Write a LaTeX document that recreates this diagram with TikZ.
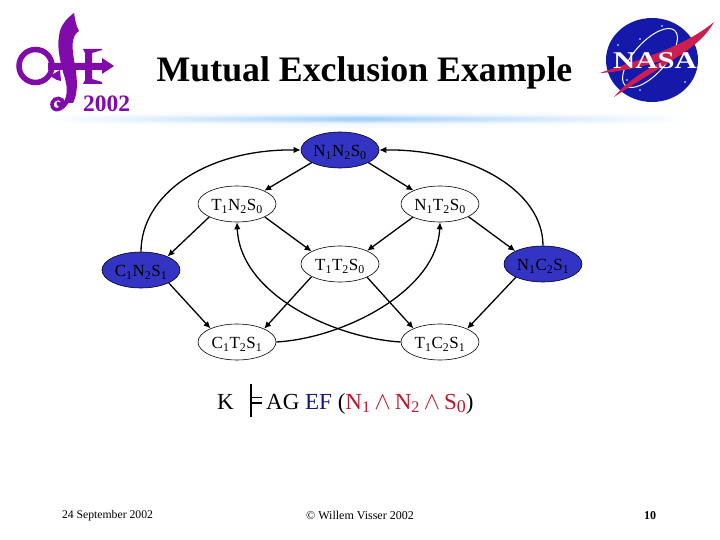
\documentclass[tikz,border=0pt]{standalone}
\usepackage{fontspec}
\setmainfont{Liberation Serif}
\usetikzlibrary{arrows.meta,shapes.geometric}
\definecolor{nodeblue}{RGB}{51,51,196}
\definecolor{lpurple}{RGB}{128,10,170}
\definecolor{nasablue}{RGB}{20,25,170}
\definecolor{nasared}{RGB}{205,30,80}
\definecolor{bandblue}{RGB}{165,208,250}
\definecolor{efblue}{RGB}{20,20,130}
\definecolor{exred}{RGB}{185,25,45}
\newcommand{\lab}[3]{#1\textsubscript{1}#2\textsubscript{2}S\textsubscript{#3}}
\tikzset{
  x=1pt,y=-1pt,
  st/.style={ellipse,draw=black,line width=0.6pt,minimum width=78pt,minimum height=36pt,inner sep=0pt,font=\fontsize{17}{20}\selectfont,fill=white,text height=15.5pt,text depth=2pt},
  init/.style={st,fill=nodeblue},
  edge/.style={-{Latex[length=7pt,width=6.5pt]},line width=1.3pt,black},
  logo/.style={lpurple,line cap=round},
}
\begin{document}
\begin{tikzpicture}
\useasboundingbox (0,0) rectangle (720,540);
\fill[white] (0,0) rectangle (720,540);
% band
\foreach \yy/\k in {113/8,114/14,115/22,116/38,117/60,118/85,119/100,120/100,121/92,122/70,123/45,124/25,125/14,126/8}{
  \shade[left color=white,right color=bandblue!\k!white] (40,\yy) rectangle (360,\yy+1.05);
  \shade[left color=bandblue!\k!white,right color=white] (360,\yy) rectangle (690,\yy+1.05);
}
% title
\node[font=\bfseries\fontsize{35.8}{40}\selectfont,inner sep=0pt] (title) at (364.5,73) {Mutual Exclusion Example};
% left logo
\draw[logo,line width=5.5pt] (35.5,66) ellipse (16.5 and 16.5);
\fill[lpurple] (74,13) .. controls (66,19) and (60,26) .. (59,36) .. controls (57,48) and (60,60) .. (63,72) .. controls (67,84) and (69,94) .. (63,103) -- (73,103) .. controls (79,92) and (77,74) .. (74,60) .. controls (72,48) and (71,36) .. (79,31) .. controls (76,26) and (75,19) .. (74,13) -- cycle;
\draw[logo,line width=3.6pt] (69,98) .. controls (65,108) and (56,113) .. (52.5,107) .. controls (50,100) and (58,96) .. (62,100) .. controls (64,104) and (59,107) .. (58,103);
\fill[lpurple] (50,76) -- (60,70) -- (61,81) -- (57,80) -- cycle;
\fill[lpurple] (48,63) -- (102,63) -- (102,58) -- (114,66) -- (102,74) -- (102,70) -- (48,70) -- cycle;
\fill[lpurple] (83,49) -- (102,49) -- (102,50) -- (92,53) -- (92,79) -- (102,82) -- (102,84) -- (83,84) -- (85,80) -- (85,53) -- cycle;
\node[font=\bfseries\fontsize{23.5}{26}\selectfont,text=lpurple,inner sep=0pt] (yr) at (106.5,104) {2002};
% NASA logo
\fill[nasablue] (652,60) ellipse (46 and 42);
\draw[white,line width=1pt,rotate around={-42:(650,58)}] (650,58) ellipse (16 and 37);
\fill[nasared] (600,73) .. controls (630,62) and (680,50) .. (714,22) .. controls (700,48) and (670,60) .. (614,97) .. controls (630,78) and (650,68) .. (664,60) .. controls (645,66) and (620,72) .. (600,73) -- cycle;
\node[font=\bfseries\fontsize{24}{26}\selectfont,text=white,inner sep=0pt] (nasa) at (655,61) {\scalebox{1.28}[1]{NASA}};
\foreach \p/\q in {640/39,662/26,627/80,640/90,685/82,618/45}{\fill[white] (\p,\q) circle (0.9);}
% states
\node[init] (n) at (340,150) {\lab{N}{N}{0}};
\node[st] (tn) at (237,204) {\lab{T}{N}{0}};
\node[st] (nt) at (440,204) {\lab{N}{T}{0}};
\node[st] (tt) at (340,264) {\lab{T}{T}{0}};
\node[init] (cn) at (141,270) {C\textsubscript{1}N\textsubscript{2}S\textsubscript{1}};
\node[init] (nc) at (543,264) {N\textsubscript{1}C\textsubscript{2}S\textsubscript{1}};
\node[st] (ct) at (237,342) {C\textsubscript{1}T\textsubscript{2}S\textsubscript{1}};
\node[st] (tc) at (440,342) {T\textsubscript{1}C\textsubscript{2}S\textsubscript{1}};
% edges
\draw[edge] (n.204) -- (tn.26);
\draw[edge] (n.336) -- (nt.153);
\draw[edge] (tn.205) -- (cn.27);
\draw[edge] (tn.335) -- (tt.156);
\draw[edge] (nt.206) -- (tt.26);
\draw[edge] (nt.336) -- (nc.155);
\draw[edge] (cn.335) -- (ct.153);
\draw[edge] (tt.204) -- (ct.26);
\draw[edge] (tt.334) -- (tc.153);
\draw[edge] (nc.206) -- (tc.26);
\draw[edge] (cn.north) .. controls (141,195) and (205,149) .. (n.west);
\draw[edge] (nc.north) .. controls (543,190) and (470,149) .. (n.east);
\draw[edge] (ct.east) .. controls (345,338) and (437,290) .. (nt.south);
\draw[edge] (tc.west) .. controls (335,338) and (240,295) .. (tn.south);
% formula
\node[font=\fontsize{23}{26}\selectfont,inner sep=0pt,anchor=base west] (k) at (217,409) {K};
\coordinate (ta) at (251,384);
\coordinate (tb) at (251,417);
\coordinate (tc1) at (251,397.5);
\coordinate (tc2) at (262,397.5);
\coordinate (td) at (251,403);
\coordinate (te) at (262,403);
\draw[black,line width=1.2pt] (ta) -- (tb) (tc1) -- (tc2) (td) -- (te);
\node[font=\fontsize{23}{26}\selectfont,inner sep=0pt,anchor=base west] (f) at (266,409) {AG \textcolor{efblue}{EF} (\textcolor{exred}{N\textsubscript{1}\hspace{3.8pt}$\wedge$\hspace{3.8pt}N\textsubscript{2}\hspace{3.8pt}$\wedge$\hspace{3.8pt}S\raisebox{-3pt}{\fontsize{18}{20}\selectfont 0}})};
% footer
\node[font=\fontsize{11.7}{14}\selectfont,inner sep=0pt] (date) at (107.5,516) {24 September 2002};
\node[font=\fontsize{12}{14}\selectfont,inner sep=0pt] (auth) at (360,515) {© Willem Visser 2002};
\node[font=\bfseries\fontsize{12}{14}\selectfont,inner sep=0pt] (pg) at (650,516) {10};
\end{tikzpicture}
\end{document}
